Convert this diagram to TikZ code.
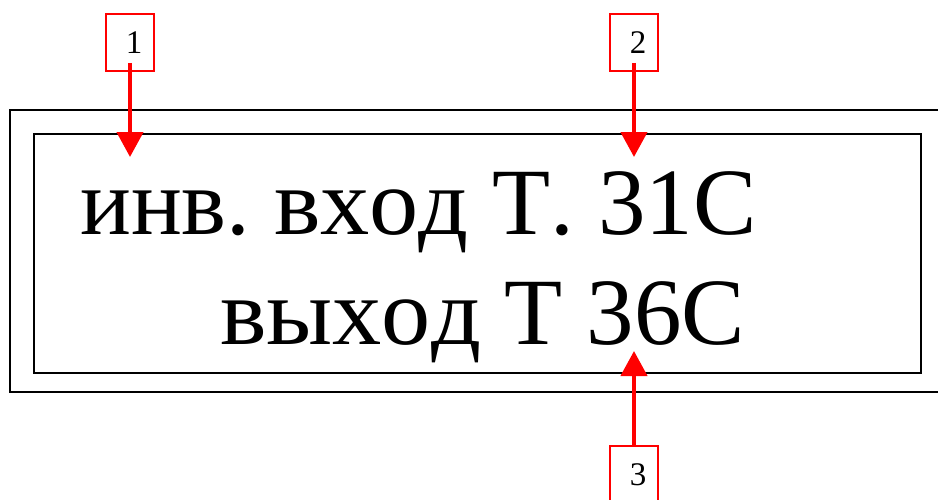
\documentclass[tikz,border=0pt]{standalone}
\usepackage{fontspec}
\setmainfont[Kerning=Off]{Liberation Serif}
\usetikzlibrary{arrows.meta}
\newcommand{\cyrw}[1]{\scalebox{1.035}[1]{#1}}
\begin{document}
\frenchspacing
\begin{tikzpicture}[x=1pt,y=-1pt,
  frame/.style={draw=black,line width=1.8pt},
  tagbox/.style={draw=red,line width=1.6pt,minimum width=48pt,minimum height=57pt,inner sep=0pt,font=\fontsize{33}{36}\selectfont},
  pointer/.style={draw=red,line width=4.3pt,-{Triangle[width=26pt,length=25pt]},red},
  bigtext/.style={anchor=base west,inner sep=0pt,font=\fontsize{95}{100}\selectfont}]
\useasboundingbox (0,0) rectangle (938,499);
\draw[frame] (10,110) rectangle (950,392);
\draw[frame] (34,134) rectangle (921,373);
\node[tagbox] (b1) at (130,42.5) {\hspace*{8pt}1};
\node[tagbox] (b2) at (634,42.5) {\hspace*{8pt}2};
\node[tagbox] (b3) at (634,474.5) {\hspace*{8pt}3};
\coordinate (t1) at (130,157);
\coordinate (t2) at (634,157);
\coordinate (t3) at (634,351);
\node[bigtext] (l1) at (80,234) {инв. \cyrw{вход} Т. 31С};
\node[bigtext] (l2) at (220,344) {\cyrw{выход} Т 36С};
\draw[pointer] ([yshift=9pt]b1.south) -- (t1);
\draw[pointer] ([yshift=9pt]b2.south) -- (t2);
\draw[pointer] (b3.north) -- (t3);
\end{tikzpicture}
\end{document}
